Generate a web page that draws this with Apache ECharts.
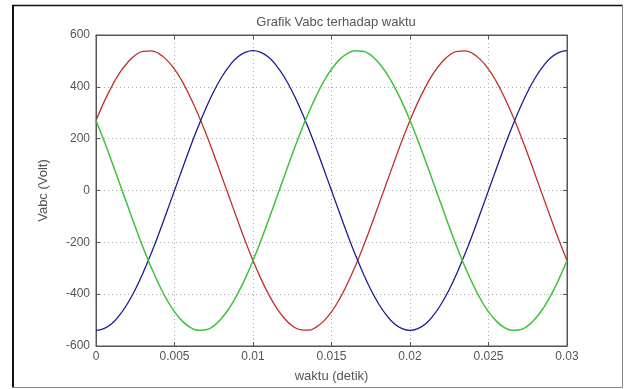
<!DOCTYPE html>
<html>
<head>
<meta charset="utf-8">
<script src="https://cdn.jsdelivr.net/npm/echarts@6/dist/echarts.min.js"></script>
<style>
html,body{margin:0;padding:0;background:#fff;}
#chart{width:624px;height:389px;}
</style>
</head>
<body>
<div id="chart"></div>
<script>
var time = [0,0.0005,0.001,0.0015,0.002,0.0025,0.003,0.0035,0.004,0.0045,
0.005,0.0055,0.006,0.0065,0.007,0.0075,0.008,0.0085,0.009,0.0095,
0.01,0.0105,0.011,0.0115,0.012,0.0125,0.013,0.0135,0.014,0.0145,
0.015,0.0155,0.016,0.0165,0.017,0.0175,0.018,0.0185,0.019,0.0195,
0.02,0.0205,0.021,0.0215,0.022,0.0225,0.023,0.0235,0.024,0.0245,
0.025,0.0255,0.026,0.0265,0.027,0.0275,0.028,0.0285,0.029,0.0295,0.03];

var va = [270,340,401,453,493,522,537,539,528,504,
468,420,361,294,220,140,56,-28,-112,-194,
-270,-340,-401,-453,-493,-522,-537,-539,-528,-504,
-468,-420,-361,-294,-220,-140,-56,28,112,194,
270,340,401,453,493,522,537,539,528,504,
468,420,361,294,220,140,56,-28,-112,-194,-270];

var vb = [-540,-533,-514,-481,-437,-382,-317,-245,-167,-84,
0,84,167,245,317,382,437,481,514,533,
540,533,514,481,437,382,317,245,167,84,
0,-84,-167,-245,-317,-382,-437,-481,-514,-533,
-540,-533,-514,-481,-437,-382,-317,-245,-167,-84,
0,84,167,245,317,382,437,481,514,533,540];

var vc = [270,194,112,28,-56,-140,-220,-294,-361,-420,
-468,-504,-528,-539,-537,-522,-493,-453,-401,-340,
-270,-194,-112,-28,56,140,220,294,361,420,
468,504,528,539,537,522,493,453,401,340,
270,194,112,28,-56,-140,-220,-294,-361,-420,
-468,-504,-528,-539,-537,-522,-493,-453,-401,-340,-270];

var xTicks = ['0','0.005','0.01','0.015','0.02','0.025','0.03'];
var titleText = 'Grafik Vabc terhadap waktu';
var xName = 'waktu (detik)';
var yName = 'Vabc (Volt)';

function pairs(v){ return time.map(function(t,i){ return [t, v[i]]; }); }

var chart = echarts.init(document.getElementById('chart'), null, {renderer:'canvas'});
var font = 'Arial, "Liberation Sans", sans-serif';
var tickStyle = {show:true, inside:true, length:4, lineStyle:{color:'#555', width:1}};
var axLine = {show:true, onZero:false, lineStyle:{color:'#555'}};
var option = {
  animation:false,
  backgroundColor:'#fff',
  title:{text:titleText, left:331, textAlign:'center', top:11,
    textStyle:{fontFamily:font, fontSize:13, fontWeight:'normal', color:'#555'}},
  grid:{left:96, right:57, top:35, bottom:43, show:true, borderColor:'#555', borderWidth:1},
  xAxis:[{
    type:'value', min:0, max:0.03, interval:0.005, position:'bottom',
    name:xName, nameLocation:'middle', nameGap:24,
    nameTextStyle:{fontFamily:font, fontSize:13, color:'#555'},
    axisLine:axLine,
    axisTick:tickStyle,
    axisLabel:{fontFamily:font, fontSize:12, color:'#555', margin:5,
      formatter:function(v){ var i=Math.round(v/0.005); return xTicks[i]; }},
    splitLine:{show:true, lineStyle:{color:'#aaa', type:[1,3], width:1}}
  },{
    type:'value', min:0, max:0.03, interval:0.005, position:'top',
    axisLine:axLine,
    axisTick:tickStyle, axisLabel:{show:false}, splitLine:{show:false}
  }],
  yAxis:[{
    type:'value', min:-600, max:600, interval:200, position:'left',
    name:yName, nameLocation:'middle', nameGap:46, nameRotate:90,
    nameTextStyle:{fontFamily:font, fontSize:13, color:'#555'},
    axisLine:axLine,
    axisTick:tickStyle,
    axisLabel:{fontFamily:font, fontSize:12, color:'#555', margin:6},
    splitLine:{show:true, lineStyle:{color:'#aaa', type:[1,3], width:1}}
  },{
    type:'value', min:-600, max:600, interval:200, position:'right',
    axisLine:axLine,
    axisTick:tickStyle, axisLabel:{show:false}, splitLine:{show:false}
  }],
  series:[
    {type:'line', data:pairs(va), smooth:true, showSymbol:false, lineStyle:{color:'#c0302c', width:1.3}},
    {type:'line', data:pairs(vb), smooth:true, showSymbol:false, lineStyle:{color:'#1c1c96', width:1.3}},
    {type:'line', data:pairs(vc), smooth:true, showSymbol:false, lineStyle:{color:'#3cc43c', width:1.5}}
  ],
  graphic:[
    {type:'line', shape:{x1:13, y1:5, x2:13, y2:388}, style:{stroke:'#111', lineWidth:2}},
    {type:'line', shape:{x1:12, y1:5.5, x2:623, y2:5.5}, style:{stroke:'#111', lineWidth:1.5}},
    {type:'line', shape:{x1:622.5, y1:5, x2:622.5, y2:388}, style:{stroke:'#888', lineWidth:1}},
    {type:'line', shape:{x1:12, y1:387.5, x2:623, y2:387.5}, style:{stroke:'#888', lineWidth:1}}
  ]
};
chart.setOption(option);
</script>
</body>
</html>
